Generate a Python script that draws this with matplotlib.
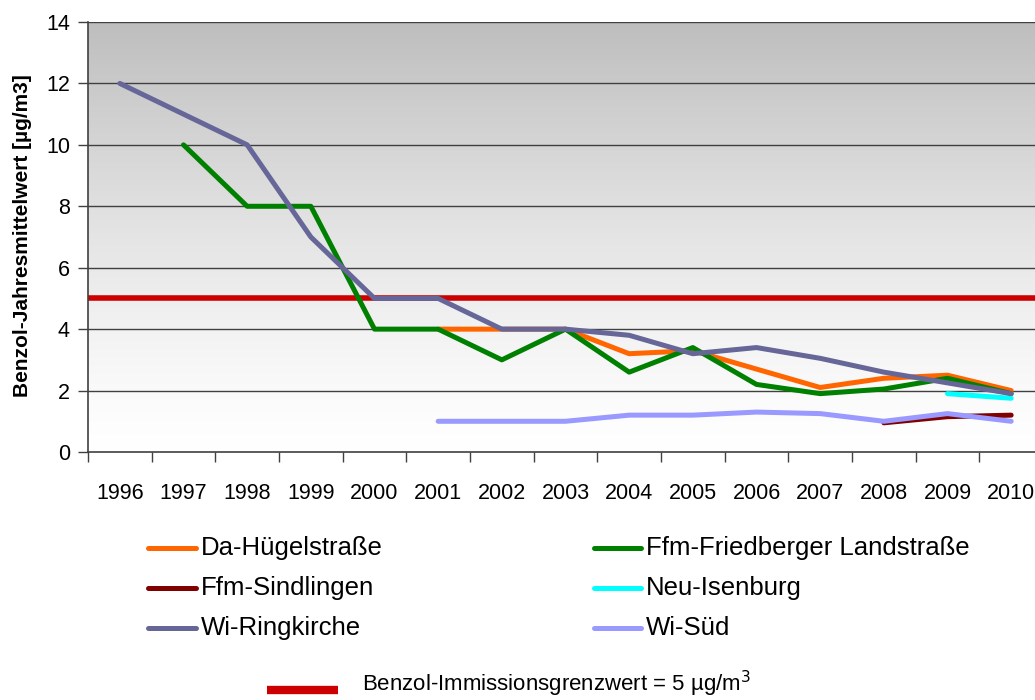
import numpy as np
import matplotlib
matplotlib.use("Agg")
import matplotlib.pyplot as plt
from matplotlib.lines import Line2D

plt.rcParams['font.family'] = ['Liberation Sans', 'DejaVu Sans']

years = ['1996', '1997', '1998', '1999', '2000', '2001', '2002', '2003',
         '2004', '2005', '2006', '2007', '2008', '2009', '2010']

# None = no measurement
da_huegel = [None, None, None, None, None, 4.0, 4.0, 4.0, 3.2, 3.3, 2.7, 2.1, 2.4, 2.5, 2.0]
ffm_friedberger = [None, 10.0, 8.0, 8.0, 4.0, 4.0, 3.0, 4.0, 2.6, 3.4, 2.2, 1.9, 2.05, 2.4, 1.9]
ffm_sindlingen = [None, None, None, None, None, None, None, None, None, None, None, None, 0.95, 1.15, 1.2]
neu_isenburg = [None, None, None, None, None, None, None, None, None, None, None, None, None, 1.9, 1.75]
wi_ringkirche = [12.0, 11.0, 10.0, 7.0, 5.0, 5.0, 4.0, 4.0, 3.8, 3.2, 3.4, 3.05, 2.6, 2.25, 1.9]
wi_sued = [None, None, None, None, None, 1.0, 1.0, 1.0, 1.2, 1.2, 1.3, 1.25, 1.0, 1.25, 1.0]
grenzwert = 5

series = [
    ('Da-Hügelstraße', da_huegel, '#FF6600'),
    ('Ffm-Friedberger Landstraße', ffm_friedberger, '#008000'),
    ('Ffm-Sindlingen', ffm_sindlingen, '#800000'),
    ('Neu-Isenburg', neu_isenburg, '#00FFFF'),
    ('Wi-Ringkirche', wi_ringkirche, '#666699'),
    ('Wi-Süd', wi_sued, '#9999FF'),
]

fig = plt.figure(figsize=(10.35, 7.0), dpi=100)
W, H = 1035, 700
ax = fig.add_axes([88 / W, (H - 452) / H, (1043 - 88) / W, (452 - 22) / H])

x = np.arange(len(years))
ax.set_xlim(-0.5, len(years) - 0.5)
ax.set_ylim(0, 14)

# gray-to-white gradient background
t = np.linspace(0, 1, 256).reshape(-1, 1)
g = 1 - (65 / 255) * t ** 1.3
ax.imshow(np.dstack([g, g, g]), extent=[-0.5, len(years) - 0.5, 0, 14],
          origin='lower', aspect='auto', zorder=0)

for yv in range(2, 15, 2):
    ax.axhline(yv, color='#404040', lw=1, zorder=1)

ax.axhline(grenzwert, color='#CC0000', lw=4, zorder=2)

for name, vals, col in series:
    v = np.array([np.nan if a is None else a for a in vals], dtype=float)
    ax.plot(x, v, color=col, lw=3.6, solid_capstyle='round',
            solid_joinstyle='round', zorder=3)

ax.set_xticks(x)
ax.set_xticklabels(years, fontsize=15.5)
ax.set_xticks(np.arange(len(years)) - 0.5, minor=True)
ax.tick_params(axis='x', which='major', length=0, pad=22)
ax.tick_params(axis='x', which='minor', length=7, width=1, color='#404040', direction='out')
ax.set_yticks(range(0, 15, 2))
ax.tick_params(axis='y', labelsize=15.5, length=7, width=1, color='#404040', pad=6)

for s in ['top', 'right']:
    ax.spines[s].set_visible(False)
for s in ['left', 'bottom']:
    ax.spines[s].set_color('#404040')
    ax.spines[s].set_linewidth(1.2)
    ax.spines[s].set_zorder(4)

fig.text(23 / W, (H - 236) / H, 'Benzol-Jahresmittelwert [µg/m3]', rotation=90,
         ha='center', va='center', fontsize=15, fontweight='bold')

# legend, drawn by hand to match the layout
rows = [548, 588, 628]
cols = [(148, 196, 201), (594, 641, 646)]
for i, (name, vals, col) in enumerate(series):
    x0, x1, xt = cols[i % 2]
    yy = (H - rows[i // 2]) / H
    fig.add_artist(Line2D([x0 / W, x1 / W], [yy, yy], color=col, lw=3.6,
                          solid_capstyle='round'))
    fig.text(xt / W, yy, name, ha='left', va='center', fontsize=18.5)

yy = (H - 690) / H
fig.add_artist(Line2D([267 / W, 338 / W], [yy, yy], color='#CC0000', lw=6,
                      solid_capstyle='butt'))
fig.text(362 / W, (H - 691) / H, 'Benzol-Immissionsgrenzwert = 5 µg/m$^3$',
         ha='left', va='baseline', fontsize=16)

fig.savefig('out.png', dpi=100)
